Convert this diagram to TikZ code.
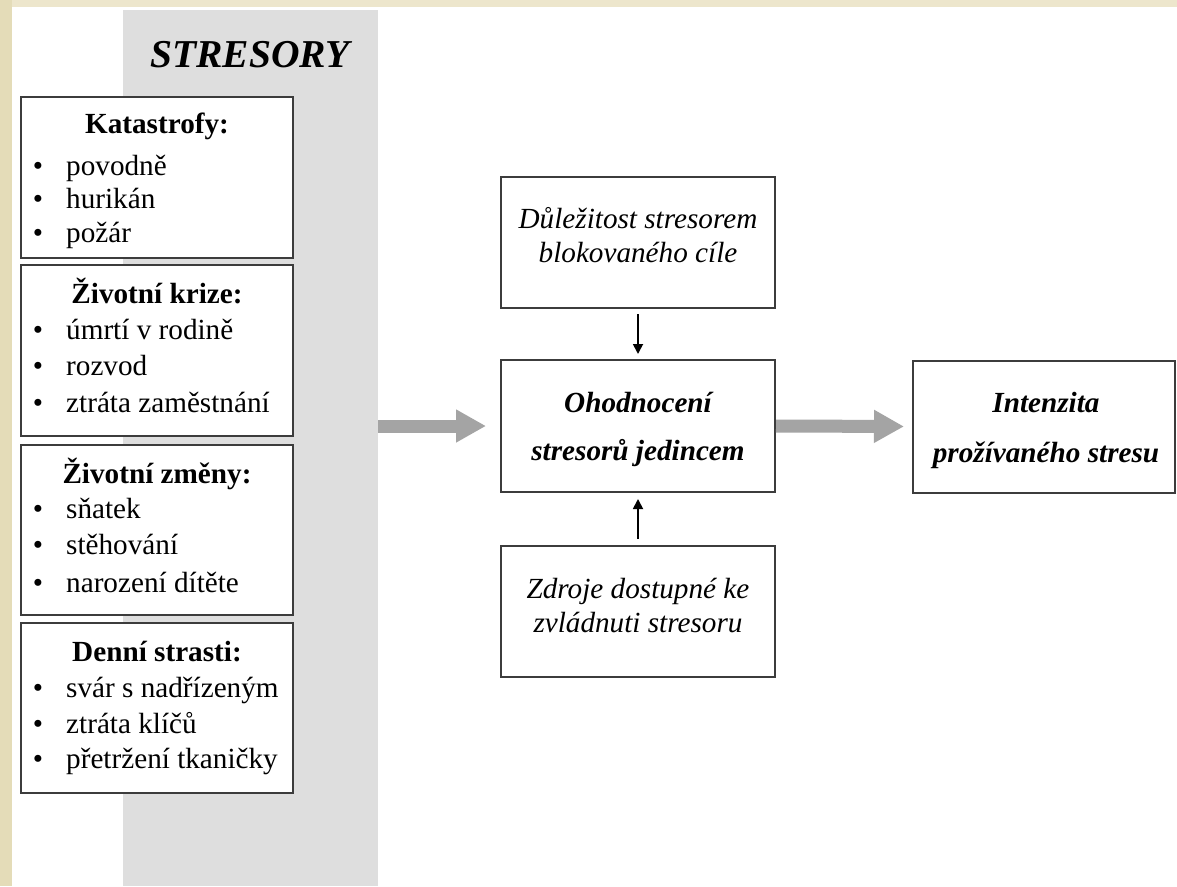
\documentclass[tikz,border=0pt]{standalone}
\usepackage{fontspec}
\setmainfont{Liberation Serif}
\usetikzlibrary{arrows.meta}
\definecolor{beigetop}{HTML}{EDE6CC}
\definecolor{beigeleft}{HTML}{E4DCB8}
\definecolor{bandgray}{HTML}{DEDEDE}
\definecolor{boxline}{HTML}{3C3C3C}
\definecolor{arrowgray}{HTML}{A4A4A4}
\newcommand\bodyfs{\fontsize{29.2}{34}\selectfont}
\begin{document}
\begin{tikzpicture}[x=1pt,y=-1pt,
  bandbox/.style={fill=bandgray, draw=none, inner sep=0, minimum width=255, minimum height=876},
  lbox/.style={draw=boxline, line width=2pt, fill=white, minimum width=272, inner sep=0},
  mbox/.style={draw=boxline, line width=2pt, fill=white, minimum width=274, minimum height=131, inner sep=0},
  headtxt/.style={anchor=base, inner sep=0, font=\bodyfs\bfseries},
  itemtxt/.style={anchor=base west, inner sep=0, font=\bodyfs},
  bul/.style={anchor=base, inner sep=0, font=\bodyfs},
  ittxt/.style={anchor=base, inner sep=0, font=\bodyfs\itshape},
  bitxt/.style={anchor=base, inner sep=0, font=\bodyfs\bfseries\itshape},
  bigarrow/.style={draw=arrowgray, line width=13pt, -{Triangle[width=31pt,length=30pt]}, fill=arrowgray},
  smallarrow/.style={draw=black, line width=1.8pt, -{Triangle[width=10pt,length=10pt]}}
]
\useasboundingbox (0,0) rectangle (1177,886);
\fill[white] (0,0) rectangle (1177,886);
\fill[beigetop] (0,0) rectangle (1177,7);
\fill[beigeleft] (0,0) rectangle (12,886);

% gray band
\node[bandbox] (band) at (250.5,448) {};
\node[anchor=base, inner sep=0, font=\fontsize{39.5}{44}\selectfont\bfseries\itshape] (title) at (250,67) {STRESORY};

% left boxes
\node[lbox, minimum height=161] (b1) at (157,177.5) {};
\node[lbox, minimum height=171] (b2) at (157,350.5) {};
\node[lbox, minimum height=170] (b3) at (157,530) {};
\node[lbox, minimum height=170] (b4) at (157,708) {};

% box 1
\node[headtxt] (h1) at (157,133) {Katastrofy:};
\node[bul] (u11) at (38,175) {•}; \node[itemtxt] (t11) at (66,175) {povodně};
\node[bul] (u12) at (38,208) {•}; \node[itemtxt] (t12) at (66,208) {hurikán};
\node[bul] (u13) at (38,242) {•}; \node[itemtxt] (t13) at (66,242) {požár};
% box 2
\node[headtxt] (h2) at (157,303) {Životní krize:};
\node[bul] (u21) at (38,339) {•}; \node[itemtxt] (t21) at (66,339) {úmrtí v rodině};
\node[bul] (u22) at (38,375) {•}; \node[itemtxt] (t22) at (66,375) {rozvod};
\node[bul] (u23) at (38,412) {•}; \node[itemtxt] (t23) at (66,412) {ztráta zaměstnání};
% box 3
\node[headtxt] (h3) at (157,483) {Životní změny:};
\node[bul] (u31) at (38,518) {•}; \node[itemtxt] (t31) at (66,518) {sňatek};
\node[bul] (u32) at (38,554) {•}; \node[itemtxt] (t32) at (66,554) {stěhování};
\node[bul] (u33) at (38,592) {•}; \node[itemtxt] (t33) at (66,592) {narození dítěte};
% box 4
\node[headtxt] (h4) at (157,661) {Denní strasti:};
\node[bul] (u41) at (38,697) {•}; \node[itemtxt] (t41) at (66,697) {svár s nadřízeným};
\node[bul] (u42) at (38,733) {•}; \node[itemtxt] (t42) at (66,733) {ztráta klíčů};
\node[bul] (u43) at (38,768) {•}; \node[itemtxt] (t43) at (66,768) {přetržení tkaničky};

% middle boxes
\node[mbox] (top) at (638,242.5) {};
\node[mbox, minimum height=132] (mid) at (638,426) {};
\node[mbox] (bot) at (638,611.5) {};
\node[mbox, minimum width=262, minimum height=132] (res) at (1044,426.5) {};

\node[ittxt] (top1) at (638,228) {Důležitost stresorem};
\node[ittxt] (top2) at (638,262) {blokovaného cíle};
\node[bitxt] (mid1) at (638,412) {Ohodnocení};
\node[bitxt] (mid2) at (638,460) {stresorů jedincem};
\node[ittxt] (bot1) at (638,598) {Zdroje dostupné ke};
\node[ittxt] (bot2) at (638,632) {zvládnuti stresoru};
\node[bitxt] (res1) at (1046,412) {Intenzita};
\node[bitxt] (res2) at (1046,462) {prožívaného stresu};

% connectors
\draw[bigarrow, shorten >=14pt] (band.east |- mid.west) -- (mid.west);
\draw[bigarrow, shorten >=8pt] (mid.east) -- (res.west);
\draw[smallarrow, shorten <=5pt, shorten >=5pt] (top.south) -- (mid.north);
\draw[smallarrow, shorten <=6pt, shorten >=6pt] (bot.north) -- (mid.south);
\end{tikzpicture}
\end{document}
